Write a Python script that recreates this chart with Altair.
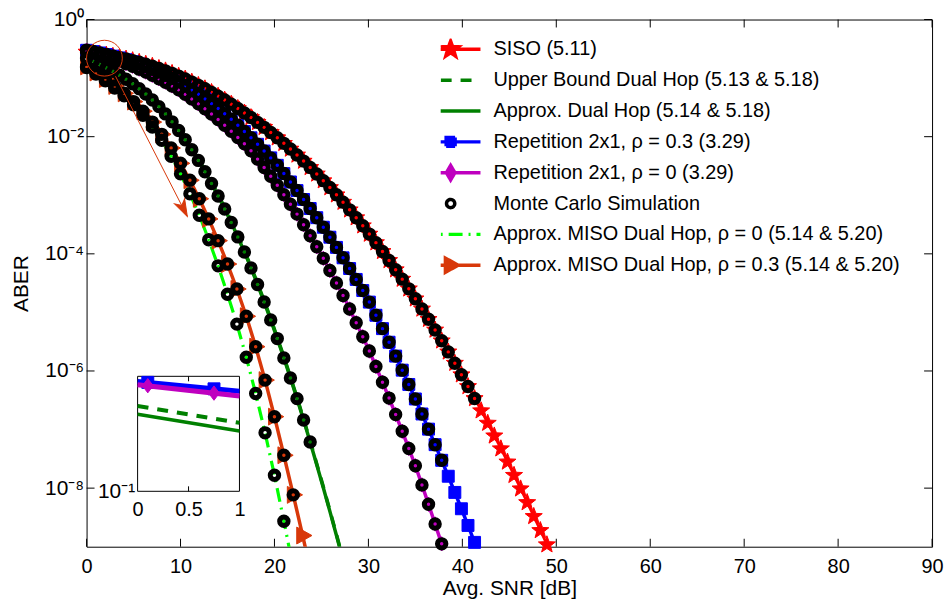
import math
import altair as alt
import pandas as pd

FONT = "Liberation Sans"
RED = "#FF0000"
GREEN = "#008000"
BLUE = "#0000FF"
PURPLE = "#BF00BF"
LIME = "#00FF00"
ORANGE = "#D8380A"

# ---------------- data (BER stored as log10) ----------------
snr_dense = [0.0, 0.7, 1.4, 2.1, 2.8, 3.5, 4.2, 4.9, 5.6, 6.3,
             7.0, 7.7, 8.4, 9.1, 9.8, 10.5, 11.2, 11.9, 12.6, 13.3,
             14.0, 14.7, 15.4, 16.1, 16.8, 17.5, 18.2, 18.9, 19.6, 20.3,
             21.0, 21.7, 22.4, 23.1, 23.8, 24.5, 25.2, 25.9, 26.6, 27.3,
             28.0, 28.7, 29.4, 30.1, 30.8, 31.5, 32.2, 32.9, 33.6, 34.3,
             35.0, 35.7, 36.4, 37.1, 37.8, 38.5, 39.2, 39.9, 40.6, 41.3,
             42.0, 42.7, 43.4, 44.1, 44.8, 45.5, 46.2, 46.9, 47.6, 48.3, 49.0]

siso_log10 = [-0.555, -0.570, -0.587, -0.606, -0.627, -0.650, -0.674, -0.701, -0.730, -0.762,
              -0.797, -0.835, -0.876, -0.919, -0.966, -1.016, -1.068, -1.124, -1.182, -1.244,
              -1.308, -1.375, -1.445, -1.519, -1.595, -1.674, -1.756, -1.841, -1.929, -2.019,
              -2.114, -2.211, -2.312, -2.417, -2.525, -2.636, -2.751, -2.869, -2.992, -3.118,
              -3.249, -3.383, -3.521, -3.663, -3.809, -3.959, -4.113, -4.271, -4.432, -4.598,
              -4.768, -4.941, -5.118, -5.300, -5.485, -5.674, -5.867, -6.064, -6.265, -6.470,
              -6.679, -6.891, -7.108, -7.328, -7.553, -7.781, -8.012, -8.246, -8.483, -8.723, -8.966]

rep03_log10 = [-0.525, -0.547, -0.571, -0.597, -0.625, -0.655, -0.686, -0.720, -0.760, -0.803,
               -0.849, -0.898, -0.950, -1.005, -1.063, -1.130, -1.202, -1.277, -1.355, -1.436,
               -1.520, -1.607, -1.702, -1.805, -1.911, -2.019, -2.130, -2.245, -2.362, -2.489,
               -2.630, -2.773, -2.920, -3.072, -3.226, -3.383, -3.546, -3.716, -3.890, -4.068,
               -4.251, -4.437, -4.627, -4.824, -5.049, -5.277, -5.509, -5.746, -5.986, -6.230,
               -6.478, -6.734, -6.993, -7.258, -7.525, -7.797, -8.073, -8.352, -8.637, -8.926,
               -9.219]

rep0_log10 = [-0.531, -0.561, -0.594, -0.629, -0.668, -0.710, -0.753, -0.798, -0.847, -0.898,
              -0.953, -1.011, -1.071, -1.134, -1.200, -1.276, -1.355, -1.439, -1.525, -1.614,
              -1.707, -1.806, -1.908, -2.014, -2.122, -2.241, -2.383, -2.527, -2.675, -2.828,
              -2.990, -3.154, -3.322, -3.504, -3.691, -3.880, -4.077, -4.284, -4.497, -4.712,
              -4.941, -5.176, -5.415, -5.660, -5.923, -6.191, -6.463, -6.743, -7.030, -7.322,
              -7.618, -7.945, -8.276, -8.612, -8.951, -9.294]

dual_log10 = [-0.662, -0.713, -0.767, -0.824, -0.884, -0.949, -1.020, -1.097, -1.181, -1.272,
              -1.374, -1.487, -1.611, -1.747, -1.895, -2.053, -2.224, -2.405, -2.598, -2.800,
              -3.012, -3.234, -3.466, -3.711, -3.969, -4.240, -4.525, -4.821, -5.128, -5.447,
              -5.777, -6.119, -6.472, -6.837, -7.213, -7.599, -7.994, -8.397, -8.808, -9.228]

ub_snr = [0.0, 1.4, 2.8, 4.2, 5.6, 7.0, 8.4, 9.8, 11.2, 12.6, 14.0,
          15.4, 16.8, 18.2, 19.6, 21.0, 22.4, 23.8, 25.2, 26.6, 28.0]
ub_log10 = [-0.626, -0.731, -0.849, -0.986, -1.148, -1.342, -1.580, -1.865, -2.195, -2.570, -2.985,
            -3.440, -3.944, -4.501, -5.105, -5.755, -6.451, -7.193, -7.975, -8.790, -9.638]

miso_snr = [0, 1, 2, 3, 4, 5, 6, 7, 8, 9, 10, 11, 12, 13, 14, 15, 16, 17, 18, 19, 20, 21, 22, 23, 24]
miso03_log10 = [-0.800, -0.904, -1.015, -1.134, -1.260, -1.401, -1.565, -1.751, -1.960, -2.194,
                -2.455, -2.744, -3.060, -3.404, -3.775, -4.174, -4.600, -5.066, -5.585, -6.156,
                -6.780, -7.439, -8.115, -8.809, -9.520]
miso0_log10 = [-0.820, -0.929, -1.045, -1.169, -1.300, -1.456, -1.635, -1.836, -2.060, -2.334,
               -2.635, -2.974, -3.340, -3.759, -4.205, -4.689, -5.200, -5.766, -6.385, -7.056,
               -7.780, -8.564, -9.365]

# number of Monte Carlo points shown on each curve (they sit on the analytical curves)
mc_siso, mc_rep03, mc_rep0, mc_dual, mc_miso0, mc_miso03 = 60, 55, 55, 35, 22, 23

# inset (zoom of SNR 0..1 dB)
inset_snr = [0.0, 1.0]
inset_rep03 = [0.304, 0.275]
inset_rep0 = [0.294, 0.262]
inset_ub = [0.237, 0.200]
inset_dual = [0.218, 0.184]
inset_mk_snr = [0.1, 0.75]
inset_mk_rep03 = [0.301, 0.282]
inset_mk_rep0 = [0.291, 0.270]
inset_box = {"snr": [0.0], "snr2": [1.0], "ber": [0.1], "ber2": [0.32]}

legend_labels = ["SISO (5.11)",
                 "Upper Bound Dual Hop (5.13 & 5.18)",
                 "Approx. Dual Hop (5.14 & 5.18)",
                 "Repetition 2x1, ρ = 0.3 (3.29)",
                 "Repetition 2x1, ρ = 0 (3.29)",
                 "Monte Carlo Simulation",
                 "Approx. MISO Dual Hop, ρ = 0 (5.14 & 5.20)",
                 "Approx. MISO Dual Hop, ρ = 0.3 (5.14 & 5.20)"]

x_ticks = [0, 10, 20, 30, 40, 50, 60, 70, 80, 90]
y_ticks = [1.0, 1e-2, 1e-4, 1e-6, 1e-8]

circle_snr = [1.9]
circle_log10 = [-0.66]
arrow_snr = [3.08, 10.72]
arrow_log10 = [-0.968, -3.36]


def curve(xs, logs, n=None):
    if n is None:
        n = min(len(xs), len(logs))
    return pd.DataFrame({"snr": list(xs[:n]), "ber": [10.0 ** v for v in logs[:n]]})


def visible(df):
    return df[df["ber"] >= 1e-9].reset_index(drop=True)


def star(R, r):
    pts = []
    for k in range(10):
        a = math.radians(-90 + 36 * k)
        rad = R if k % 2 == 0 else r
        pts.append(f"{rad * math.cos(a):.3f},{rad * math.sin(a):.3f}")
    return "M" + "L".join(pts) + "Z"


STAR = star(1.0, 0.42)
DIAMOND = "M0,-1.2L0.9,0L0,1.2L-0.9,0Z"
TRI_RIGHT = "M1.1,0L-0.7,1L-0.7,-1Z"
ARROW_HEAD = "M0,0L0.6,1.8L0,1.3L-0.6,1.8Z"
LINE = "M-4,0L4,0"

legend_paths = [LINE + star(1.1, 0.45), LINE, LINE,
                LINE + "M-0.6,-0.6L0.6,-0.6L0.6,0.6L-0.6,0.6Z",
                LINE + "M0,-0.97L0.57,0L0,0.97L-0.57,0Z",
                "M0.55,0A0.55,0.55,0,1,1,-0.55,0A0.55,0.55,0,1,1,0.55,0Z",
                LINE,
                LINE + "M1,0L-0.7,0.95L-0.7,-0.95Z"]
legend_fill = [RED, GREEN, GREEN, BLUE, PURPLE, "transparent", LIME, ORANGE]
legend_stroke = [RED, GREEN, GREEN, BLUE, PURPLE, "black", LIME, ORANGE]
legend_dash = [[1, 0], [11, 9], [1, 0], [1, 0], [1, 0], [1, 0], [14, 6, 2, 6], [1, 0]]

# ---------------- frames ----------------
siso = curve(snr_dense, siso_log10)
rep03 = curve(snr_dense, rep03_log10)
rep0 = curve(snr_dense, rep0_log10)
dual = curve(snr_dense, dual_log10)
ub = curve(ub_snr, ub_log10)
miso03 = curve(miso_snr, miso03_log10)
miso0 = curve(miso_snr, miso0_log10)
mc = pd.concat([curve(snr_dense, siso_log10, mc_siso),
                curve(snr_dense, rep03_log10, mc_rep03),
                curve(snr_dense, rep0_log10, mc_rep0),
                curve(snr_dense, dual_log10, mc_dual),
                curve(miso_snr, miso0_log10, mc_miso0),
                curve(miso_snr, miso03_log10, mc_miso03)], ignore_index=True)

# ---------------- main scales / axes ----------------
x_axis = alt.Axis(values=x_ticks, title="Avg. SNR [dB]", ticks=False, domain=False, grid=False,
                  labelFontSize=20, titleFontSize=21, titleFontWeight="normal",
                  labelPadding=10, titlePadding=1, labelFlush=False, orient="bottom")
y_axis = alt.Axis(values=y_ticks,
                  labelExpr="datum.value > 0.5 ? '10⁰' : datum.value > 0.005 ? '10⁻²' : "
                            "datum.value > 0.00005 ? '10⁻⁴' : datum.value > 0.0000005 ? '10⁻⁶' : '10⁻⁸'",
                  title="ABER", ticks=False, domain=False, grid=False,
                  labelFontSize=21, titleFontSize=21, titleFontWeight="normal",
                  labelPadding=3, titlePadding=13, labelFlush=False, orient="left")
X = alt.X("snr:Q", scale=alt.Scale(domain=[0, 90], nice=False, zero=False), axis=x_axis)
Y = alt.Y("ber:Q", scale=alt.Scale(type="log", domain=[1e-9, 1], nice=False), axis=y_axis)


def line(df, color, width, dash=None):
    kw = dict(color=color, strokeWidth=width, clip=True)
    if dash:
        kw["strokeDash"] = dash
    return alt.Chart(df).mark_line(**kw).encode(x=X, y=Y)


def markers(df, shape, size, color):
    return alt.Chart(visible(df)).mark_point(shape=shape, size=size, filled=True, fill=color,
                                             stroke=color, strokeWidth=1, opacity=1).encode(x=X, y=Y)


def ticks(df, path):
    return alt.Chart(df).mark_point(shape=path, size=256, filled=False, stroke="black",
                                    strokeWidth=1, opacity=1).encode(x=X, y=Y)


tick_bottom = pd.DataFrame({"snr": x_ticks, "ber": [1e-9] * len(x_ticks)})
tick_top = pd.DataFrame({"snr": x_ticks, "ber": [1.0] * len(x_ticks)})
tick_left = pd.DataFrame({"snr": [0] * len(y_ticks), "ber": y_ticks})
tick_right = pd.DataFrame({"snr": [90] * len(y_ticks), "ber": y_ticks})

legend = alt.Legend(orient="none", legendX=356, legendY=19, title=None, labelFontSize=20,
                    labelFont=FONT, labelColor="black", labelLimit=0, symbolSize=225,
                    symbolStrokeWidth=3.5, labelOffset=33, rowPadding=9, padding=0,
                    clipHeight=22, gridAlign="all")
legend_df = pd.DataFrame({"series": legend_labels, "snr": [-50.0] * 8, "ber": [1e-15] * 8})
legend_layer = alt.Chart(legend_df).mark_point(clip=True, opacity=1, strokeWidth=3.5).encode(
    x=X, y=Y,
    shape=alt.Shape("series:N", scale=alt.Scale(domain=legend_labels, range=legend_paths), legend=legend),
    fill=alt.Fill("series:N", scale=alt.Scale(domain=legend_labels, range=legend_fill), legend=legend),
    stroke=alt.Stroke("series:N", scale=alt.Scale(domain=legend_labels, range=legend_stroke), legend=legend),
    strokeDash=alt.StrokeDash("series:N", scale=alt.Scale(domain=legend_labels, range=legend_dash), legend=legend),
)

circle_df = curve(circle_snr, circle_log10)
arrow_df = curve(arrow_snr, arrow_log10)
head_df = arrow_df.iloc[[1]]

main_layers = [
    line(siso, RED, 2.5),
    markers(siso, STAR, 324, RED),
    line(ub, GREEN, 3.5, [11, 9]),
    line(dual, GREEN, 3.5),
    line(rep03, BLUE, 3.5),
    markers(rep03, "square", 144, BLUE),
    line(rep0, PURPLE, 3.5),
    markers(rep0, DIAMOND, 144, PURPLE),
    line(miso0, LIME, 3.2, [14, 6, 2, 6]),
    line(miso03, ORANGE, 3.5),
    markers(miso03, TRI_RIGHT, 289, ORANGE),
    alt.Chart(visible(mc)).mark_point(shape="circle", size=72, filled=False, stroke="black",
                                      strokeWidth=5, opacity=1).encode(x=X, y=Y),
    alt.Chart(circle_df).mark_point(shape="circle", size=1296, filled=False, stroke=ORANGE,
                                    strokeWidth=1, opacity=1).encode(x=X, y=Y),
    alt.Chart(arrow_df).mark_line(color=ORANGE, strokeWidth=1).encode(x=X, y=Y),
    alt.Chart(head_df).mark_point(shape=ARROW_HEAD, size=357, angle=153, filled=True, fill=ORANGE,
                                  stroke=ORANGE, strokeWidth=1, opacity=1).encode(x=X, y=Y),
    ticks(tick_bottom, "M0,0L0,-1"),
    ticks(tick_top, "M0,0L0,1"),
    ticks(tick_left, "M0,0L1,0"),
    ticks(tick_right, "M0,0L-1,0"),
    legend_layer,
]
main = alt.layer(*main_layers)

# ---------------- inset ----------------
ix_axis = alt.Axis(orient="bottom", offset=-55.7, values=[0, 0.5, 1], format="~g", ticks=False,
                   domain=False, grid=False, labelFontSize=20, labelPadding=8, title=None, labelFlush=False)
iy_axis = alt.Axis(orient="left", offset=-51.3, values=[0.1], labelExpr="'10⁻¹'", ticks=False,
                   domain=False, grid=False, labelFontSize=21, labelPadding=3, title=None, labelFlush=False)
IX = alt.X("snr:Q", scale=alt.Scale(domain=[0, 1], range=[51.3, 153.7], nice=False, zero=False), axis=ix_axis)
IY = alt.Y("ber:Q", scale=alt.Scale(type="log", domain=[0.1, 0.32], range=[474.3, 358.7], nice=False), axis=iy_axis)

box_df = pd.DataFrame(inset_box)
i_rep03 = pd.DataFrame({"snr": inset_snr, "ber": inset_rep03})
i_rep0 = pd.DataFrame({"snr": inset_snr, "ber": inset_rep0})
i_ub = pd.DataFrame({"snr": inset_snr, "ber": inset_ub})
i_dual = pd.DataFrame({"snr": inset_snr, "ber": inset_dual})
i_mk03 = pd.DataFrame({"snr": inset_mk_snr, "ber": inset_mk_rep03})
i_mk0 = pd.DataFrame({"snr": inset_mk_snr, "ber": inset_mk_rep0})
i_tick_b = pd.DataFrame({"snr": [0.5], "ber": [0.1]})
i_tick_t = pd.DataFrame({"snr": [0.5], "ber": [0.32]})

inset_layers = [
    alt.Chart(box_df).mark_rect(fill="white", stroke="black", strokeWidth=1).encode(
        x=IX, x2="snr2:Q", y=IY, y2="ber2:Q"),
    alt.Chart(i_dual).mark_line(color=GREEN, strokeWidth=3.5).encode(x=IX, y=IY),
    alt.Chart(i_ub).mark_line(color=GREEN, strokeWidth=4, strokeDash=[11, 9]).encode(x=IX, y=IY),
    alt.Chart(i_rep03).mark_line(color=BLUE, strokeWidth=5).encode(x=IX, y=IY),
    alt.Chart(i_mk03).mark_point(shape="square", size=144, filled=True, fill=BLUE, stroke=BLUE,
                                 strokeWidth=1, opacity=1).encode(x=IX, y=IY),
    alt.Chart(i_rep0).mark_line(color=PURPLE, strokeWidth=5).encode(x=IX, y=IY),
    alt.Chart(i_mk0).mark_point(shape=DIAMOND, size=144, filled=True, fill=PURPLE, stroke=PURPLE,
                                strokeWidth=1, opacity=1).encode(x=IX, y=IY),
    alt.Chart(i_tick_b).mark_point(shape="M0,0L0,-1", size=100, stroke="black", strokeWidth=1,
                                   opacity=1).encode(x=IX, y=IY),
    alt.Chart(i_tick_t).mark_point(shape="M0,0L0,1", size=100, stroke="black", strokeWidth=1,
                                   opacity=1).encode(x=IX, y=IY),
]
inset = alt.layer(*inset_layers)

chart = alt.layer(main, inset).resolve_scale(x="independent", y="independent").properties(
    width=850, height=530,
    autosize=alt.AutoSizeParams(type="none"),
    padding={"left": 79, "top": 10, "right": 12, "bottom": 54},
    background="white",
).configure_axis(
    labelFont=FONT, titleFont=FONT, labelColor="black", titleColor="black",
).configure_view(
    stroke="black", strokeWidth=1,
)

chart.save("out.html", embed_options={"renderer": "svg", "actions": False})
